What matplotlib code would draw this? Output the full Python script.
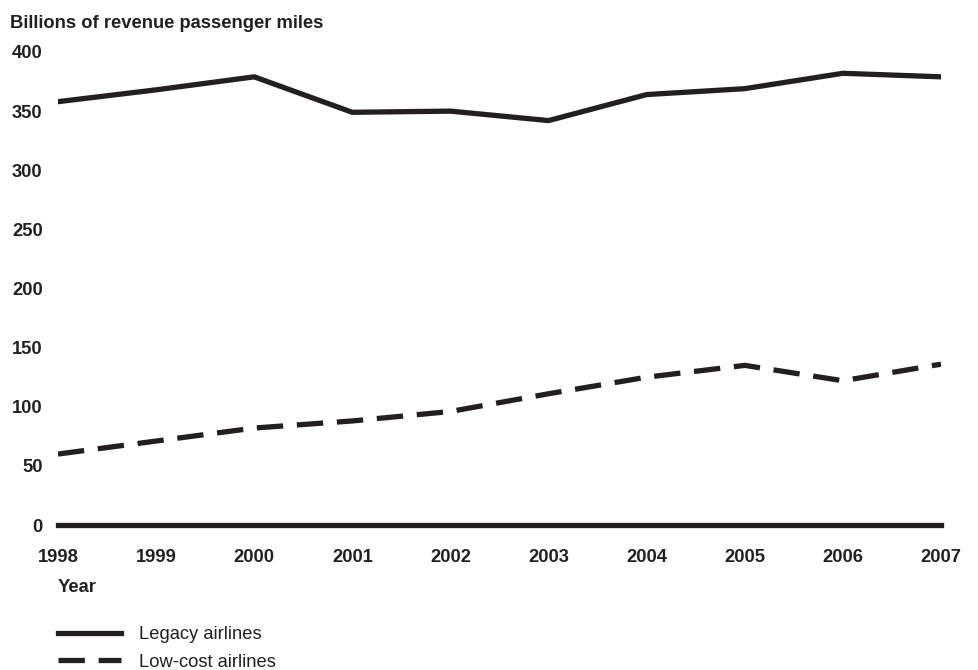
import matplotlib
matplotlib.use("Agg")
import matplotlib.pyplot as plt
from matplotlib.lines import Line2D

plt.rcParams['font.family'] = ['Liberation Sans', 'DejaVu Sans']

# data
years = [1998, 1999, 2000, 2001, 2002, 2003, 2004, 2005, 2006, 2007]
legacy = [358, 368, 379, 349, 350, 342, 364, 369, 382, 379]
low_cost = [60, 71, 82, 88, 96, 111, 125, 135, 122, 136]
yticks = [0, 50, 100, 150, 200, 250, 300, 350, 400]

ink = "#231f20"
lw = 3.8
fs = 13.2

fig = plt.figure(figsize=(9.79, 6.7), dpi=100)
ax = fig.add_axes([58 / 979, 1 - 525 / 670, (941 - 58) / 979, (525 - 52) / 670])

ax.plot(years, legacy, c=ink, linewidth=lw, solid_joinstyle="miter")
ax.plot(years, low_cost, c=ink, linewidth=lw, linestyle=(0, (5, 2.6)),
        dash_capstyle="butt")
ax.axhline(0, c=ink, linewidth=lw, clip_on=False)

ax.set_xlim(1998, 2007)
ax.set_ylim(0, 400)
ax.set_xticks(years)
ax.set_yticks(yticks)
for s in ax.spines.values():
    s.set_visible(False)
ax.tick_params(length=0, colors=ink, labelsize=fs)
ax.tick_params(axis="y", pad=11)
ax.tick_params(axis="x", pad=17)
for lab in ax.get_xticklabels() + ax.get_yticklabels():
    lab.set_fontweight("bold")

fig.text(10 / 979, 1 - 23 / 670, "Billions of revenue passenger miles",
         fontsize=fs, fontweight="bold", color=ink, va="center")
fig.text(58 / 979, 1 - 587 / 670, "Year", fontsize=fs, fontweight="bold",
         color=ink, va="center")

# legend at the bottom
handles = [Line2D([0], [0], c=ink, linewidth=lw),
           Line2D([0], [0], c=ink, linewidth=lw, linestyle=(0, (5, 2.6)),
                  dash_capstyle="butt")]
fig.legend(handles, ["Legacy airlines", "Low-cost airlines"],
           loc="upper left", bbox_to_anchor=(58 / 979, 1 - 626 / 670),
           frameon=False, fontsize=fs, handlelength=3.45, handletextpad=0.95,
           labelspacing=0.58, labelcolor=ink, borderaxespad=0, borderpad=0)

fig.savefig("out.png", dpi=100)
